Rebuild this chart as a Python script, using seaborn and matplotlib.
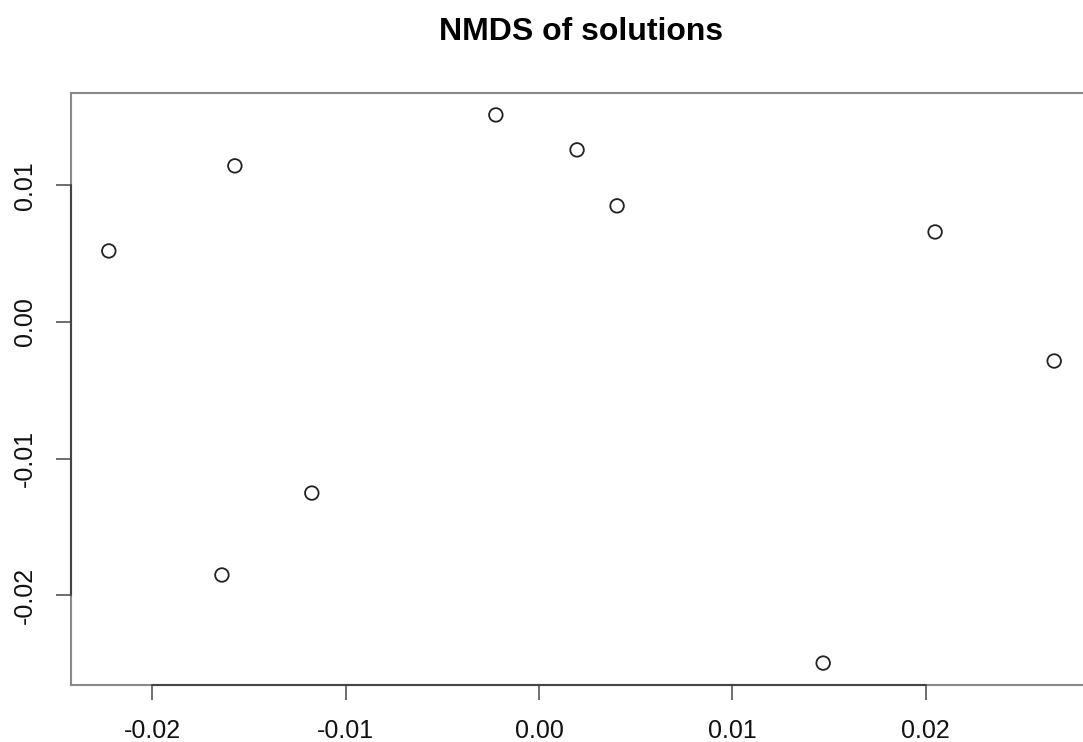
import matplotlib
matplotlib.use('Agg')
import matplotlib.pyplot as plt
import seaborn as sns
import pandas as pd

# NMDS coordinates
nmds1 = [-0.02225, -0.01573, -0.00223, 0.00197, 0.00404, 0.02049, 0.02665, -0.01175, -0.01640, 0.01470]
nmds2 = [0.00520, 0.01143, 0.01516, 0.01260, 0.00850, 0.00659, -0.00286, -0.01253, -0.01853, -0.02498]
xticks = [-0.02, -0.01, 0.00, 0.01, 0.02]
yticks = [-0.02, -0.01, 0.00, 0.01]

df = pd.DataFrame({'NMDS1': nmds1, 'NMDS2': nmds2})

sns.set_style('white')
plt.rcParams['font.family'] = ['Liberation Sans', 'DejaVu Sans']

fig = plt.figure(figsize=(10.83, 7.42), dpi=100)
# plot region runs past the right edge, as in the reference
ax = fig.add_axes([71 / 1083, 57 / 742, 1021 / 1083, 592 / 742])

sns.scatterplot(data=df, x='NMDS1', y='NMDS2', ax=ax, marker='o', s=95,
                facecolors='none', edgecolors='#222222', linewidth=1.3)

# R-like range: data range plus 4% on each side
xr = max(nmds1) - min(nmds1)
yr = max(nmds2) - min(nmds2)
ax.set_xlim(min(nmds1) - 0.04 * xr, max(nmds1) + 0.04 * xr)
ax.set_ylim(min(nmds2) - 0.04 * yr, max(nmds2) + 0.04 * yr)

ax.set_xticks(xticks)
ax.set_yticks(yticks)
ax.set_xticklabels([f'{v:.2f}' for v in xticks])
ax.set_yticklabels([f'{v:.2f}' for v in yticks], rotation=90, va='center')
ax.tick_params(axis='both', which='major', bottom=True, left=True,
               direction='out', length=10.8, width=1.2,
               color='#555555', labelsize=18, labelcolor='#111111')
ax.tick_params(axis='x', pad=14)
ax.tick_params(axis='y', pad=13.5)

for side, sp in ax.spines.items():
    sp.set_color('#8a8a8a')
    sp.set_linewidth(1.5)

# darker axis lines between the outer ticks, like R's axis()
y0 = ax.get_ylim()[0]
x0 = ax.get_xlim()[0]
ax.plot([xticks[0], xticks[-1]], [y0, y0], color='#444444', lw=1.5,
        clip_on=False, zorder=3)
ax.plot([x0, x0], [yticks[0], yticks[-1]], color='#444444', lw=1.5,
        clip_on=False, zorder=3)

ax.set_xlabel('')
ax.set_ylabel('')
ax.set_title('NMDS of solutions', fontsize=23, fontweight='bold', pad=38,
             color='black')

fig.savefig('out.png', dpi=100)
plt.close(fig)
